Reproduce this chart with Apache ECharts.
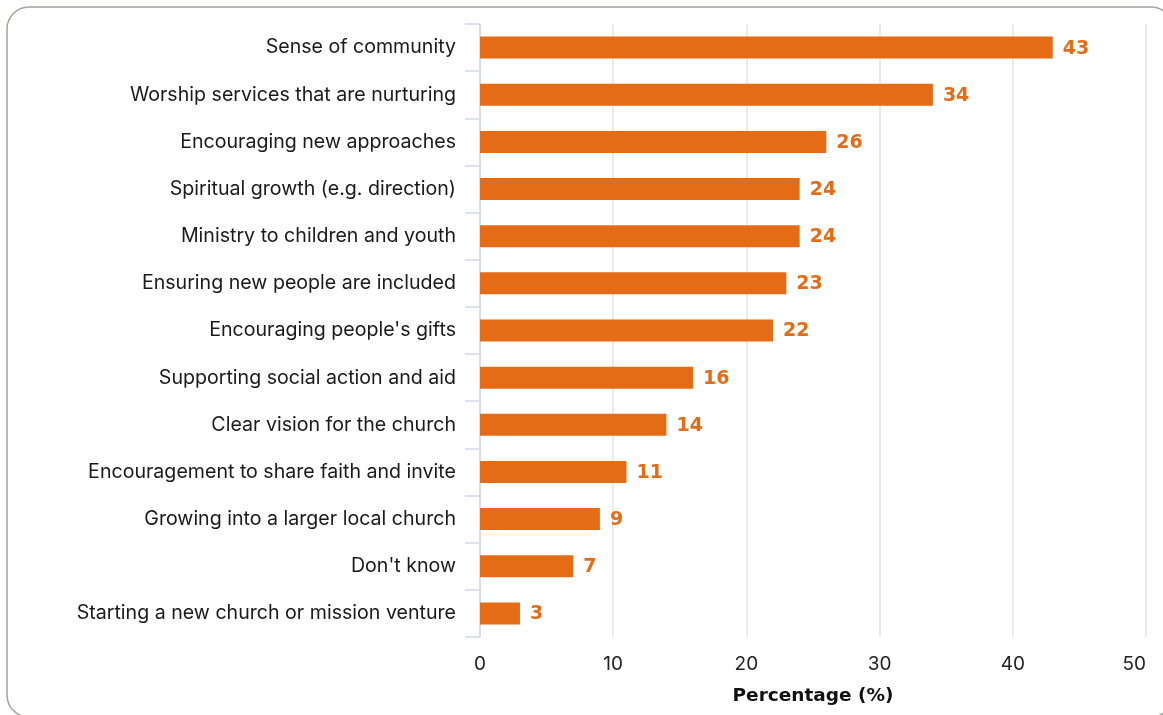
<!DOCTYPE html>
<html>
<head>
<meta charset="utf-8">
<style>
  html, body { margin: 0; padding: 0; background: #ffffff; }
  #chart { width: 1163px; height: 715px; }
</style>
<script src="https://cdn.jsdelivr.net/npm/echarts@6/dist/echarts.min.js"></script>
</head>
<body>
<div id="chart"></div>
<script>
// Categories listed top to bottom
const categories = [
  'Sense of community',
  'Worship services that are nurturing',
  'Encouraging new approaches',
  'Spiritual growth (e.g. direction)',
  'Ministry to children and youth',
  'Ensuring new people are included',
  "Encouraging people's gifts",
  'Supporting social action and aid',
  'Clear vision for the church',
  'Encouragement to share faith and invite',
  'Growing into a larger local church',
  "Don't know",
  'Starting a new church or mission venture'
];
const percentages = [43, 34, 26, 24, 24, 23, 22, 16, 14, 11, 9, 7, 3];
const xTicks = [0, 10, 20, 30, 40, 50];
const axisTitle = 'Percentage (%)';

const orange = '#E46C17';
const chart = echarts.init(document.getElementById('chart'), null, { renderer: 'canvas' });

chart.setOption({
  animation: false,
  backgroundColor: '#ffffff',
  graphic: [{
    type: 'rect',
    shape: { x: 7, y: 7, width: 1166, height: 710, r: 22 },
    style: { fill: 'none', stroke: '#a3a39b', lineWidth: 1.5 },
    silent: true,
    z: -10
  }],
  grid: { left: 480, right: 17, top: 24, bottom: 78, containLabel: false },
  xAxis: {
    type: 'value',
    min: xTicks[0],
    max: xTicks[xTicks.length - 1],
    interval: 10,
    name: axisTitle,
    nameLocation: 'middle',
    nameGap: 50,
    nameTextStyle: { fontFamily: 'DejaVu Sans', fontSize: 18.5, fontWeight: 'bold', color: '#111111' },
    axisLine: { show: false },
    axisTick: { show: false },
    axisLabel: { fontFamily: 'Inter', fontSize: 19, color: '#222222', margin: 18, alignMaxLabel: 'right' },
    splitLine: { show: true, lineStyle: { color: '#e3e3e3', width: 1.5 } }
  },
  yAxis: {
    type: 'category',
    data: categories,
    inverse: true,
    axisLine: { show: true, lineStyle: { color: '#d0d8ea', width: 1.5 } },
    axisTick: { show: true, length: 15, lineStyle: { color: '#d0d8ea', width: 1.5 } },
    axisLabel: { fontFamily: 'Inter', fontSize: 19.6, color: '#1a1a1a', margin: 24 },
    splitLine: { show: false }
  },
  series: [{
    type: 'bar',
    data: percentages,
    barWidth: 22,
    itemStyle: { color: orange },
    label: {
      show: true,
      position: 'right',
      distance: 10,
      color: orange,
      fontFamily: 'DejaVu Sans',
      fontWeight: 'bold',
      fontSize: 19,
      offset: [0, 1]
    }
  }]
});
</script>
</body>
</html>
